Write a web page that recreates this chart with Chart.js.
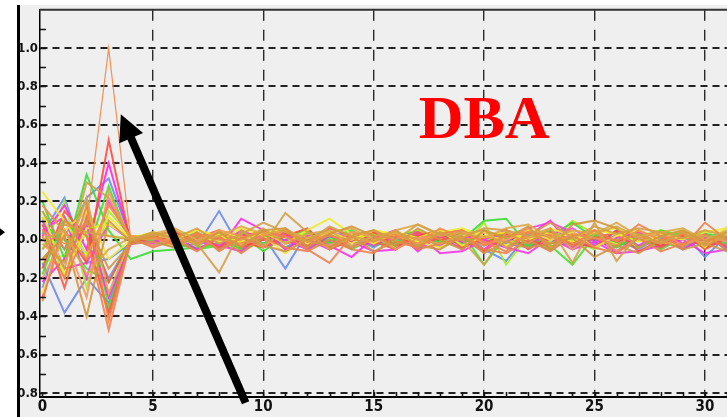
<!DOCTYPE html>
<html><head><meta charset="utf-8">
<script src="https://cdn.jsdelivr.net/npm/chart.js@4"></script>
<style>html,body{margin:0;padding:0;background:#fff;overflow:hidden}canvas{display:block}</style>
</head><body>
<canvas id="c" width="727" height="417"></canvas>
<script>
// ---------- data ----------
const xValues = [0,1,2,3,4,5,6,7,8,9,10,11,12,13,14,15,16,17,18,19,20,21,22,23,24,25,26,27,28,29,30,31];
const xTickValues = [0,5,10,15,20,25,30];
const xMinorTicks = [0,1,2,3,4,5,6,7,8,9,10,11,12,13,14,15,16,17,18,19,20,21,22,23,24,25,26,27,28,29,30,31];
const yTickValues = [-0.8,-0.6,-0.4,-0.2,0,0.2,0.4,0.6,0.8,1.0,1.2];
const yMinorTicks = [-0.8,-0.7,-0.6,-0.5,-0.4,-0.3,-0.2,-0.1,0,0.1,0.2,0.3,0.4,0.5,0.6,0.7,0.8,0.9,1.0,1.1];
const annotationText = "DBA";

const tan5     = [-0.05,0.08,0.04,0.02,0.00,0.04,0.01,0.06,-0.02,0.03,0.09,0.04,-0.01,0.07,0.02,0.05,0.00,0.08,0.03,0.01,0.06,0.05,0.02,0.09,0.01,0.07,0.03,0.06,0.04,0.01,0.05,0.02];
const tan1     = [0.05,-0.15,0.30,0.22,0.00,0.03,0.01,-0.02,-0.17,0.05,-0.03,0.14,0.04,-0.05,0.02,-0.01,0.05,-0.03,0.04,0.00,-0.13,0.04,-0.02,0.06,-0.12,0.09,-0.11,0.03,-0.02,0.04,-0.03,0.02];
const tan2     = [-0.10,0.02,-0.40,0.10,-0.01,0.02,0.05,-0.02,0.04,-0.04,0.05,0.06,-0.04,0.03,0.07,0.02,-0.03,0.06,0.00,-0.05,0.05,0.01,0.07,-0.05,0.08,0.10,0.06,-0.04,0.02,0.05,-0.01,0.04];
const tan3     = [0.00,0.05,-0.18,-0.05,0.01,0.03,0.06,0.00,0.02,0.07,0.03,0.05,0.01,0.04,0.06,0.00,0.05,0.08,0.02,0.04,0.01,0.06,0.08,0.01,0.05,0.03,0.09,0.02,0.04,0.06,0.00,0.05];
const tan4     = [0.15,-0.05,0.10,-0.15,-0.02,-0.01,-0.04,0.02,-0.05,0.01,-0.03,-0.06,0.00,-0.04,0.02,-0.06,-0.01,-0.03,-0.05,0.02,-0.07,-0.01,-0.04,-0.02,0.01,-0.09,-0.03,-0.07,0.00,-0.05,-0.02,-0.06];
const tan6     = [-0.02,-0.12,0.22,-0.28,0.01,0.00,0.03,-0.03,0.04,0.00,0.06,-0.02,0.03,0.05,-0.03,0.02,0.04,0.00,-0.02,0.03,0.05,-0.04,0.02,0.06,-0.05,0.03,0.07,0.01,-0.02,0.04,0.02,0.00];
const orangePeak = [0.05,-0.02,0.08,1.00,0.00,0.01,-0.01,0.02,0.00,-0.02,0.03,0.01,-0.01,0.02,0.00,-0.01,0.02,0.01,-0.02,0.00,0.02,-0.01,0.01,0.03,-0.02,0.01,0.00,0.02,-0.01,0.01,0.00,0.02];
const orange2  = [-0.32,0.10,0.02,-0.47,0.00,0.02,-0.03,0.04,-0.06,0.01,0.04,0.02,-0.05,-0.12,0.02,0.05,-0.01,-0.04,0.03,0.05,-0.01,-0.06,0.04,0.02,-0.03,0.05,-0.01,0.08,0.02,-0.04,0.09,0.00];
const orange3  = [0.02,-0.20,0.18,-0.42,0.01,-0.04,0.00,-0.06,0.02,-0.07,0.01,-0.04,-0.06,0.00,-0.05,-0.07,0.02,-0.05,-0.02,0.01,-0.05,-0.07,0.00,-0.06,0.02,-0.04,-0.07,0.01,-0.06,-0.02,0.03,-0.05];
const orange4  = [0.18,0.04,-0.10,0.18,0.02,0.01,-0.02,0.03,0.01,-0.03,0.02,0.05,-0.01,0.03,-0.04,0.00,0.03,-0.02,0.06,0.01,-0.03,0.02,0.04,-0.02,0.03,0.01,-0.03,0.05,0.00,0.03,-0.02,0.04];
const lightOrange = [-0.20,0.02,-0.30,0.25,0.00,-0.03,0.02,-0.01,0.05,0.02,-0.04,0.06,-0.01,-0.03,0.04,0.02,-0.05,0.01,0.03,0.05,-0.02,0.00,0.06,-0.04,0.02,0.05,-0.06,0.01,0.04,-0.03,0.02,-0.01];
const red1     = [-0.30,0.05,-0.12,0.52,-0.02,0.01,0.04,-0.02,0.05,-0.01,-0.04,0.02,0.06,-0.05,0.00,0.04,-0.03,0.02,0.05,-0.04,0.01,0.04,-0.05,0.02,-0.01,-0.04,0.05,0.02,-0.03,0.04,-0.05,0.01];
const red2     = [0.08,-0.25,0.12,-0.22,0.00,0.03,-0.02,0.01,0.05,-0.04,0.00,0.04,-0.03,0.06,0.02,-0.01,-0.05,0.04,0.00,0.02,-0.06,0.02,-0.01,0.04,-0.03,0.01,0.04,-0.06,0.00,0.03,-0.04,0.02];
const red3     = [-0.15,0.15,0.02,-0.38,-0.01,0.02,0.00,0.03,-0.04,0.02,0.04,-0.02,0.01,-0.04,0.03,0.00,0.02,-0.03,0.01,0.04,-0.02,0.03,0.00,-0.04,0.02,0.04,-0.01,0.03,-0.04,0.02,0.00,-0.03];
const magenta1 = [0.02,0.18,-0.05,0.40,-0.01,0.02,-0.04,0.03,-0.05,0.11,0.05,-0.05,0.02,-0.03,-0.09,0.01,0.05,-0.06,0.03,-0.01,-0.05,0.03,0.02,0.10,-0.04,0.01,-0.06,0.02,0.04,-0.05,0.01,-0.04];
const magenta2 = [-0.22,-0.10,0.08,-0.30,-0.02,-0.01,0.02,-0.05,0.01,0.03,-0.04,0.00,-0.05,0.02,-0.01,-0.06,-0.05,0.03,-0.07,-0.06,0.00,-0.04,-0.07,0.01,-0.05,-0.01,-0.07,-0.06,-0.03,0.00,-0.07,-0.05];
const magenta3 = [0.10,-0.15,-0.12,0.08,0.00,0.02,0.04,-0.01,-0.03,0.05,0.00,0.03,-0.04,0.04,0.01,-0.03,0.04,0.00,0.02,-0.05,0.04,-0.01,0.06,0.09,0.04,-0.03,0.01,0.04,-0.02,0.03,-0.04,0.01];
const magenta4 = [0.05,0.12,-0.20,0.20,0.00,-0.02,0.03,0.01,-0.03,-0.06,0.04,0.02,0.00,-0.05,0.03,-0.02,0.01,0.04,-0.03,0.02,0.00,0.05,-0.02,0.03,0.06,-0.01,0.02,-0.03,0.04,-0.02,0.03,-0.05];
const green1   = [0.20,-0.10,0.34,0.05,-0.10,-0.06,-0.05,-0.04,-0.02,-0.06,0.01,0.03,-0.04,0.02,-0.01,-0.03,0.02,0.04,-0.02,0.00,0.10,0.11,-0.03,0.02,0.09,0.01,-0.04,0.03,0.02,-0.03,0.01,-0.02];
const green2   = [-0.18,0.12,-0.08,0.28,-0.02,0.02,-0.01,-0.05,-0.03,0.03,-0.06,0.02,0.05,-0.02,0.04,0.00,-0.05,0.02,-0.01,0.04,-0.13,0.02,0.05,-0.03,-0.13,0.02,-0.01,-0.04,0.05,0.02,-0.04,0.01];
const green3   = [-0.10,0.02,0.20,-0.35,-0.01,0.00,-0.04,-0.02,0.01,-0.05,0.02,-0.04,0.00,0.02,-0.05,0.01,-0.02,0.04,-0.04,0.00,-0.02,0.04,-0.01,-0.05,0.02,0.00,-0.04,0.02,-0.05,0.01,0.04,-0.06];
const green4   = [0.08,0.00,-0.15,-0.22,0.00,0.03,-0.03,0.02,0.00,0.04,-0.02,0.03,-0.05,0.01,0.05,-0.03,0.00,-0.04,0.03,-0.02,0.04,0.00,-0.03,0.05,-0.02,0.03,0.00,0.04,-0.01,-0.04,0.03,0.01];
const lime1    = [-0.05,0.20,-0.25,0.15,0.02,0.01,0.03,0.04,-0.03,0.01,0.05,0.02,-0.04,0.00,0.04,-0.02,0.02,0.05,0.00,-0.04,0.09,-0.13,0.02,-0.01,0.10,0.03,-0.02,0.00,0.05,0.02,-0.03,0.04];
const lime2    = [0.12,-0.20,0.05,-0.40,-0.01,0.02,-0.01,-0.04,0.05,-0.05,0.02,-0.01,0.04,-0.04,0.01,0.03,-0.04,0.00,0.04,0.02,-0.01,0.05,-0.03,0.04,0.00,-0.05,0.03,0.02,-0.04,0.01,0.05,-0.02];
const lime3    = [-0.12,-0.08,0.14,0.02,0.01,-0.02,0.04,0.00,0.03,-0.02,-0.04,0.04,0.02,-0.03,0.00,0.04,-0.02,0.03,-0.04,0.05,0.01,-0.03,0.04,-0.02,0.00,0.04,-0.03,0.02,0.05,-0.02,0.01,0.03];
const yellow1  = [0.25,0.10,-0.08,0.12,0.01,0.03,0.00,0.05,0.02,-0.01,0.04,-0.02,0.05,0.11,0.03,-0.02,0.04,0.01,0.05,-0.03,0.02,0.04,0.00,0.06,0.02,0.05,0.03,-0.01,0.02,0.05,-0.04,0.07];
const yellow2  = [-0.28,0.05,0.15,-0.10,0.00,0.02,-0.04,0.02,-0.01,0.06,0.02,-0.07,0.01,0.04,-0.02,0.05,0.02,-0.01,-0.04,0.02,0.04,-0.03,0.05,0.00,0.04,-0.04,0.02,0.05,-0.01,-0.03,0.04,0.06];
const yellow3  = [0.15,-0.18,0.06,0.08,0.01,0.04,0.02,-0.02,0.05,0.01,0.03,0.06,-0.02,0.04,0.00,0.05,0.03,-0.01,0.04,0.06,0.02,0.00,0.05,0.03,-0.01,0.04,0.06,0.02,0.03,0.00,0.05,0.03];
const blue1    = [0.10,-0.05,0.22,0.32,0.01,0.01,0.03,-0.03,0.15,-0.05,0.02,-0.15,0.04,-0.01,-0.04,0.05,0.01,-0.04,0.02,0.04,-0.05,-0.11,0.03,-0.01,0.02,-0.04,0.05,0.00,-0.03,0.04,-0.09,0.02];
const blue2    = [-0.12,-0.38,-0.20,-0.33,-0.01,-0.01,0.04,-0.03,0.02,-0.05,0.03,-0.01,0.02,0.04,-0.04,0.01,0.02,-0.05,0.04,-0.01,0.02,-0.02,-0.04,0.02,0.04,-0.03,0.01,0.04,-0.03,0.00,0.02,-0.04];
const blue3    = [-0.25,0.10,0.05,-0.20,0.00,-0.03,0.01,0.04,-0.02,0.01,0.05,-0.04,0.02,-0.01,0.04,0.02,-0.04,0.01,0.03,-0.03,0.00,-0.04,0.02,-0.01,-0.03,0.04,0.00,-0.05,0.02,0.04,-0.04,0.00];
const blue4    = [0.03,0.22,-0.12,-0.10,-0.02,0.00,-0.02,0.04,-0.05,0.03,-0.02,0.00,0.04,-0.03,0.02,-0.04,0.03,0.00,-0.02,0.04,-0.03,0.01,-0.04,0.03,0.00,-0.02,0.04,-0.03,0.01,-0.05,0.02,0.03];

// first listed = drawn on top
const seriesValues = [tan5, tan1, tan2, tan3, orange2, tan4, tan6, orange3, orange4, lightOrange, orangePeak,
  yellow1, yellow2, yellow3, red1, red2, red3, magenta1, magenta2, magenta3, magenta4,
  green1, green2, green3, green4, lime1, lime2, lime3, blue1, blue2, blue3, blue4];
const seriesColors = ['rgba(212,160,70,0.9)','rgba(212,160,70,0.9)','rgba(210,150,60,0.9)','rgba(222,170,70,0.9)','rgba(240,130,80,0.9)',
  'rgba(205,150,70,0.9)','rgba(215,165,75,0.9)','rgba(240,125,75,0.9)','rgba(245,140,70,0.9)','rgba(245,150,100,0.9)','rgba(240,140,80,0.95)',
  'rgba(240,235,40,0.9)','rgba(245,230,60,0.9)','rgba(235,240,50,0.9)',
  'rgba(255,75,60,0.9)','rgba(250,90,70,0.9)','rgba(255,80,80,0.9)',
  'rgba(255,40,235,0.9)','rgba(245,50,230,0.9)','rgba(240,70,220,0.9)','rgba(250,60,240,0.9)',
  'rgba(60,220,50,0.9)','rgba(70,225,40,0.9)','rgba(80,215,60,0.9)','rgba(50,230,70,0.9)',
  'rgba(170,235,40,0.9)','rgba(160,230,50,0.9)','rgba(185,240,60,0.9)',
  'rgba(105,140,240,0.9)','rgba(110,135,235,0.9)','rgba(120,150,240,0.9)','rgba(100,150,245,0.9)'];
const seriesWidths = seriesValues.map(s => s === orangePeak ? 1.2 : 2);

// ---------- chart ----------
const datasets = seriesValues.map((vals, i) => ({
  data: xValues.map((x, j) => ({x: x, y: vals[j]})),
  borderColor: seriesColors[i],
  borderWidth: seriesWidths[i],
  pointRadius: 0,
  tension: 0,
  fill: false
}));

const fontFamily = '"Liberation Sans Narrow", "DejaVu Sans Condensed", "DejaVu Sans Mono", monospace';
const xTickFont = { family: fontFamily, size: 15, weight: 'bold' };
const yTickFont = { family: fontFamily, size: 13, weight: 'bold' };

const decor = {
  id: 'decor',
  beforeDraw(chart) {
    const ctx = chart.ctx;
    ctx.save();
    ctx.fillStyle = '#efefef';
    ctx.fillRect(0, 0, chart.width, chart.height);
    ctx.restore();
  },
  afterDraw(chart) {
    const ctx = chart.ctx, a = chart.chartArea;
    const xs = chart.scales.x, ys = chart.scales.y;
    ctx.save();
    ctx.strokeStyle = '#111'; ctx.lineWidth = 1.5;
    ctx.beginPath();
    xMinorTicks.forEach(v => { const p = Math.round(xs.getPixelForValue(v)) + 0.5; ctx.moveTo(p, a.bottom); ctx.lineTo(p, a.bottom - 5); });
    yMinorTicks.forEach(v => { const p = Math.round(ys.getPixelForValue(v)) + 0.5; ctx.moveTo(a.left, p); ctx.lineTo(a.left + 6, p); });
    ctx.stroke();
    ctx.strokeStyle = '#333'; ctx.lineWidth = 2;
    ctx.beginPath(); ctx.moveTo(a.left, a.top); ctx.lineTo(a.right, a.top); ctx.stroke();
    ctx.fillStyle = '#ffffff';
    ctx.fillRect(0, 0, chart.width, 5);
    ctx.fillRect(0, 0, 17, chart.height);
    ctx.fillStyle = '#000';
    ctx.fillRect(17, 5, 3, chart.height - 5);
    ctx.beginPath();
    ctx.moveTo(0, ys.getPixelForValue(0.06)); ctx.lineTo(5, ys.getPixelForValue(0.04)); ctx.lineTo(0, ys.getPixelForValue(0.02));
    ctx.closePath(); ctx.fill();
    ctx.fillStyle = '#ff0000';
    ctx.font = 'bold 62px "Liberation Serif", "DejaVu Serif", serif';
    ctx.textAlign = 'center'; ctx.textBaseline = 'alphabetic';
    ctx.fillText(annotationText, xs.getPixelForValue(20.0), ys.getPixelForValue(0.53));
    const tx = xs.getPixelForValue(3.55), ty = ys.getPixelForValue(0.655);
    const bx = xs.getPixelForValue(9.2), by = ys.getPixelForValue(-0.85);
    const len = Math.hypot(tx - bx, ty - by);
    const ux = (tx - bx) / len, uy = (ty - by) / len;
    const nx = -uy, ny = ux;
    const hl = 26, hw = 13;
    const cx = tx - ux * hl, cy = ty - uy * hl;
    ctx.strokeStyle = '#000'; ctx.lineWidth = 8; ctx.lineCap = 'butt';
    ctx.beginPath(); ctx.moveTo(bx, by); ctx.lineTo(cx + ux * 2, cy + uy * 2); ctx.stroke();
    ctx.fillStyle = '#000';
    ctx.beginPath(); ctx.moveTo(tx, ty); ctx.lineTo(cx + nx * hw, cy + ny * hw); ctx.lineTo(cx - nx * hw, cy - ny * hw); ctx.closePath(); ctx.fill();
    ctx.restore();
  }
};

new Chart(document.getElementById('c'), {
  type: 'line',
  data: { datasets },
  options: {
    responsive: false,
    animation: false,
    devicePixelRatio: 1,
    layout: { padding: { top: 9, right: 0, left: 0, bottom: 0 } },
    plugins: { legend: { display: false }, tooltip: { enabled: false } },
    scales: {
      x: {
        type: 'linear', min: -0.11, max: 31,
        afterBuildTicks: s => { s.ticks = xTickValues.map(v => ({ value: v })); },
        afterFit: s => { s.height = 20; },
        ticks: { color: '#111', font: xTickFont, padding: 1, maxRotation: 0, autoSkip: false, callback: v => String(v) },
        grid: { color: ctx => (ctx.tick && ctx.tick.value === 0) ? 'rgba(0,0,0,0)' : '#2a2a2a', lineWidth: 1.4, drawTicks: false },
        border: { display: true, color: '#000', width: 2, dash: [11, 9] }
      },
      y: {
        type: 'linear', min: -0.82, max: 1.2,
        afterBuildTicks: s => { s.ticks = yTickValues.map(v => ({ value: v })); },
        afterFit: s => { s.width = 40; },
        ticks: { color: '#111', font: yTickFont, padding: 2, autoSkip: false,
          callback: v => v > 1.1 ? '' : Number(v).toFixed(1) },
        grid: { color: ctx => (ctx.tick && ctx.tick.value > 1.1) ? 'rgba(0,0,0,0)' : '#222', lineWidth: 2, drawTicks: false },
        border: { display: true, color: '#000', width: 1.5, dash: [7, 5] }
      }
    }
  },
  plugins: [decor]
});
</script>
</body></html>
